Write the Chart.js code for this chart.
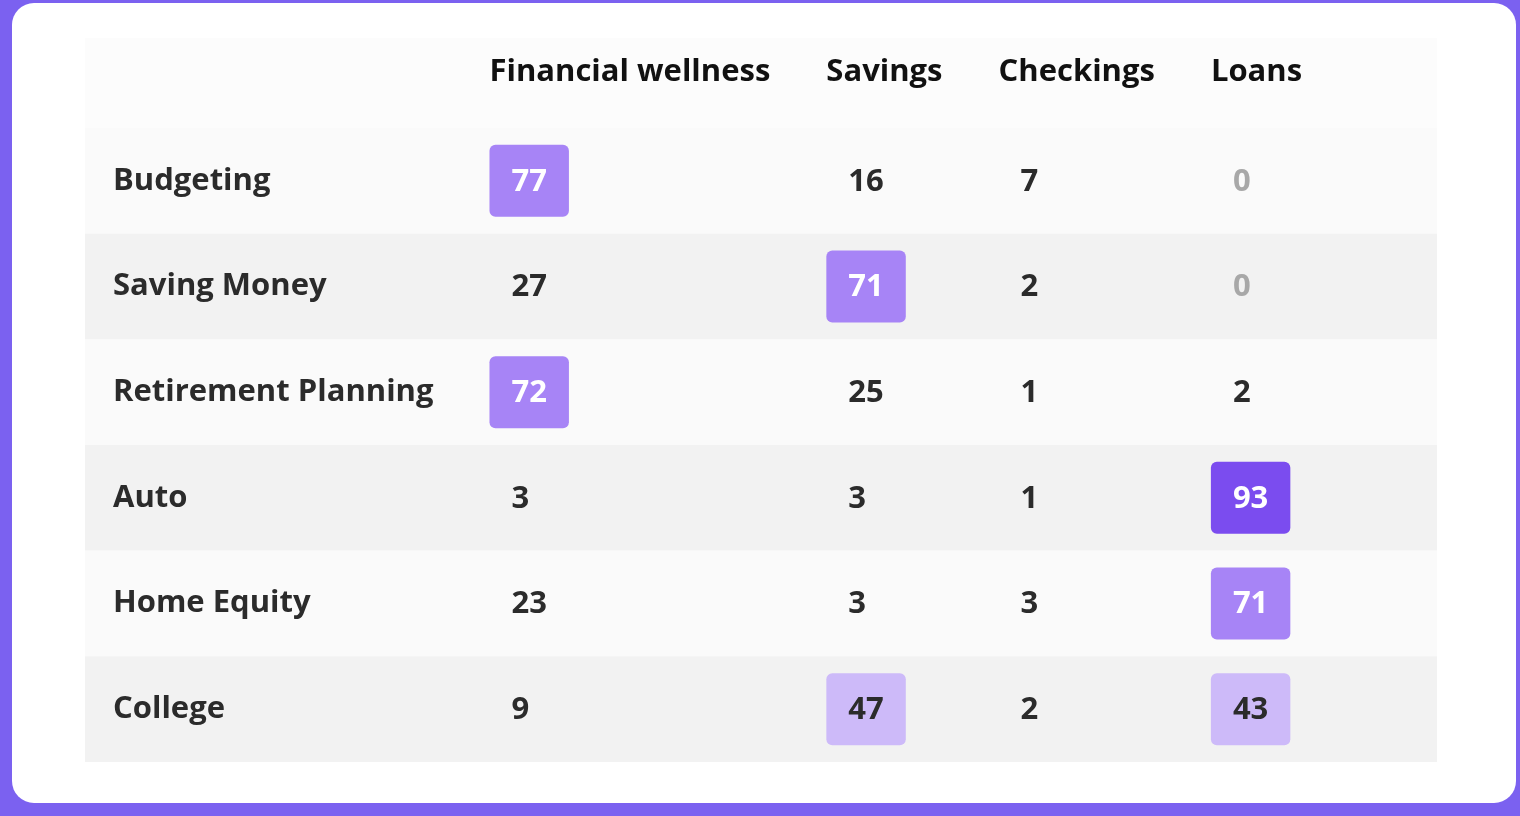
<!DOCTYPE html>
<html>
<head>
<meta charset="utf-8">
<script src="https://cdn.jsdelivr.net/npm/chart.js@4"></script>
<style>
  html, body { margin: 0; padding: 0; width: 1520px; height: 816px; overflow: hidden; background: #7b61f0; }
  #card { position: absolute; left: 12px; top: 3px; width: 1504px; height: 800px; background: #fff; border-radius: 22px; }
  #wrap { position: absolute; left: 0; top: 0; width: 1520px; height: 816px; }
</style>
</head>
<body>
<div id="card"></div>
<div id="wrap"><canvas id="heat"></canvas></div>
<script>
const topics = ['Budgeting', 'Saving Money', 'Retirement Planning', 'Auto', 'Home Equity', 'College'];
const products = ['Financial wellness', 'Savings', 'Checkings', 'Loans'];
const financialWellness = [77, 27, 72, 3, 23, 9];
const savings = [16, 71, 25, 3, 3, 47];
const checkings = [7, 2, 1, 1, 3, 2];
const loans = [0, 0, 2, 93, 71, 43];
const series = [financialWellness, savings, checkings, loans];

const FONT = '700 31px "Open Sans"';
const GAP = 28;

function boxColor(v) {
  if (v >= 90) return '#7b4cef';
  if (v >= 70) return '#a784f6';
  if (v >= 40) return '#cdbaf9';
  return null;
}

const tablePlugin = {
  id: 'table',
  afterDraw(chart) {
    const ctx = chart.ctx;
    const y = chart.scales.y;
    const area = chart.chartArea;
    const band = (area.bottom - area.top) / topics.length;
    ctx.save();
    ctx.font = FONT;
    const labelW = Math.max(...topics.map(t => ctx.measureText(t).width));
    const lefts = [];
    let x = area.left + GAP + labelW + GAP * 2;
    products.forEach(p => { lefts.push(x); x += ctx.measureText(p).width + GAP * 2; });

    // header band
    ctx.fillStyle = '#fcfcfc';
    ctx.fillRect(area.left, 38, area.right - area.left, area.top - 38);

    topics.forEach((t, i) => {
      const cy = y.getPixelForValue(i);
      ctx.fillStyle = i % 2 === 0 ? '#fafafa' : '#f2f2f2';
      ctx.fillRect(area.left, cy - band / 2, area.right - area.left, band);
    });

    ctx.textBaseline = 'middle';
    ctx.fillStyle = '#111';
    products.forEach((p, j) => ctx.fillText(p, lefts[j], 72));

    topics.forEach((t, i) => {
      const cy = y.getPixelForValue(i);
      ctx.fillStyle = '#2b2b2b';
      ctx.fillText(t, area.left + GAP, cy);
      series.forEach((s, j) => {
        const v = s[i];
        const txt = String(v);
        const w = ctx.measureText(txt).width;
        const c = boxColor(v);
        if (c) {
          ctx.fillStyle = c;
          ctx.beginPath();
          ctx.roundRect(lefts[j], cy - 36, w + 44, 72, 6);
          ctx.fill();
          ctx.fillStyle = v >= 70 ? '#fff' : '#2b2b2b';
        } else {
          ctx.fillStyle = v === 0 ? '#a8a8a8' : '#2b2b2b';
        }
        ctx.fillText(txt, lefts[j] + 22, cy + 1);
      });
    });
    ctx.restore();
  }
};

new Chart(document.getElementById('heat'), {
  type: 'bar',
  data: { labels: topics, datasets: [] },
  options: {
    responsive: true,
    maintainAspectRatio: false,
    animation: false,
    indexAxis: 'y',
    layout: { padding: { top: 128, bottom: 54, left: 85, right: 83 } },
    plugins: { legend: { display: false }, tooltip: { enabled: false } },
    scales: {
      x: { display: false, min: 0, max: 100 },
      y: { display: false, type: 'category', labels: topics, offset: true, grid: { display: false } }
    }
  },
  plugins: [tablePlugin]
});
</script>
</body>
</html>
